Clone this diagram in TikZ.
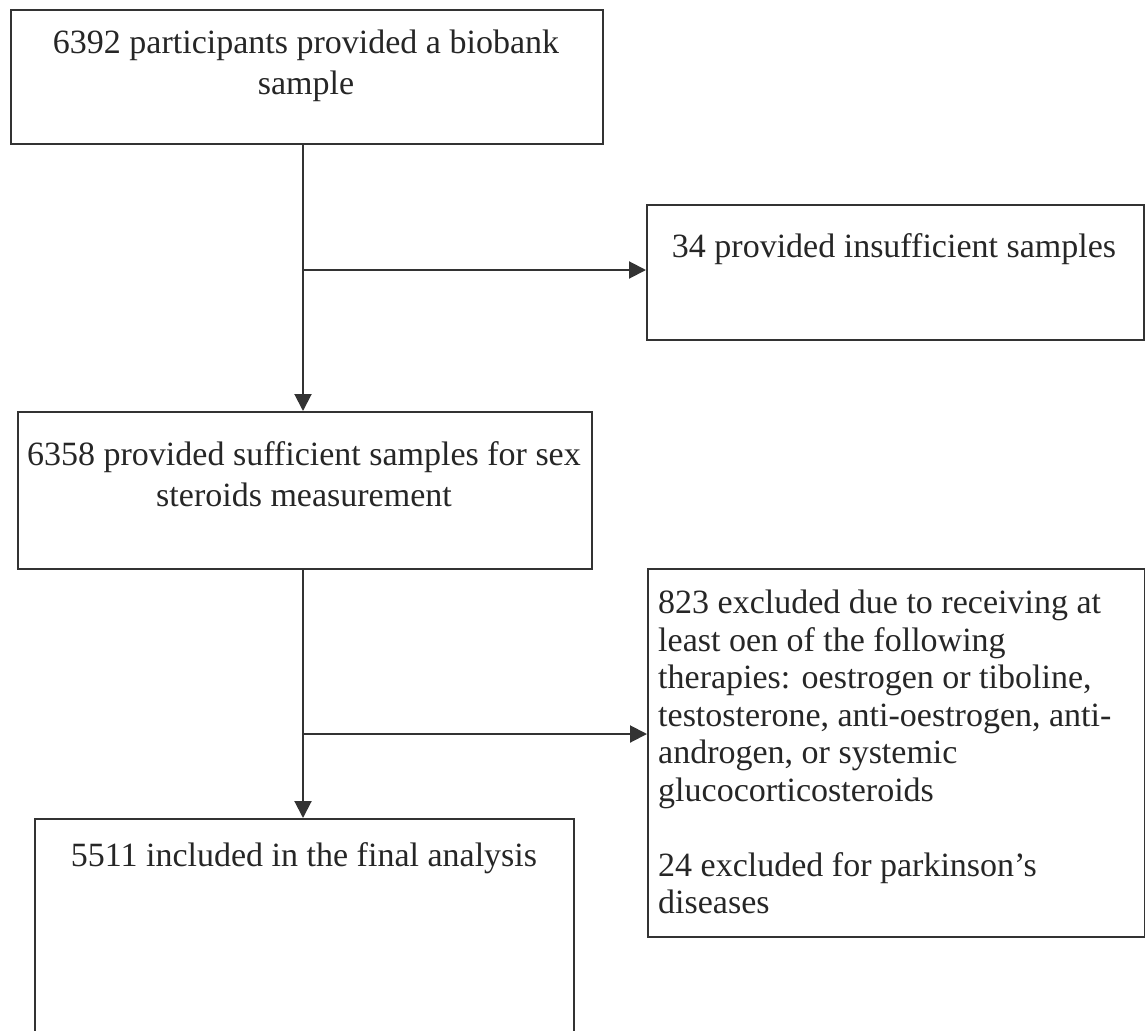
\documentclass[tikz,border=0pt]{standalone}
\usepackage{fontspec}
\setmainfont{Liberation Serif}
\usetikzlibrary{arrows.meta}
\begin{document}
\begin{tikzpicture}[x=1pt,y=-1pt,
  boxline/.style={draw=black!80, line width=2pt, inner sep=0pt, anchor=north west},
  txt/.style={font=\fontsize{34}{41}\selectfont, inner sep=0pt, text=black!85},
  listtxt/.style={txt, font=\fontsize{34}{37.5}\selectfont, align=left, anchor=north west},
  conn/.style={draw=black!80, line width=2pt},
  arr/.style={conn, -{Triangle[length=17pt,width=17pt]}}]
\useasboundingbox (0,0) rectangle (1145,1030);
% boxes
\node[boxline, minimum width=592pt, minimum height=134pt] (b1) at (10,9) {};
\node[boxline, minimum width=497pt, minimum height=135pt] (b2) at (646,204) {};
\node[boxline, minimum width=574pt, minimum height=157pt] (b3) at (17,411) {};
\node[boxline, minimum width=497pt, minimum height=368pt] (b5) at (647,568) {};
\node[boxline, minimum width=539pt, minimum height=240pt] (b6) at (34,818) {};
% texts
\node[txt, align=center] (t1) at (306,66) {6392 participants provided a biobank\\sample};
\node[txt] (t2) at (894,249) {34 provided insufficient samples};
\node[txt, align=center] (t3) at (304,474) {6358 provided sufficient samples for sex\\steroids measurement};
\node[listtxt] (t5) at (658,590) {823 excluded due to receiving at\\least oen of the following\\therapies: oestrogen or tiboline,\\testosterone, anti-oestrogen, anti-\\androgen, or systemic\\glucocorticosteroids\\[37.5pt]24 excluded for parkinson’s\\diseases};
\node[txt] (t6) at (304,858) {5511 included in the final analysis};
% connectors
\coordinate (j1) at (303,270);
\coordinate (j2) at (303,734);
\draw[arr] (b1.south -| j1) -- (b3.north -| j1);
\draw[arr] (j1) -- (j1 -| b2.west);
\draw[arr] (b3.south -| j2) -- (b6.north -| j2);
\draw[arr] (j2) -- (j2 -| b5.west);
\end{tikzpicture}
\end{document}
